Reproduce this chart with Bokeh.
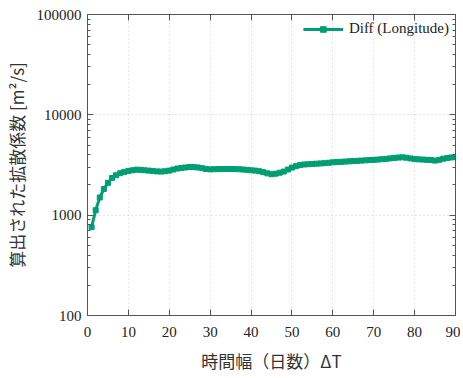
from bokeh.plotting import figure
from bokeh.models import (Range1d, FixedTicker, NumeralTickFormatter, LinearAxis, LogAxis,
                          CustomJSTickFormatter, Legend, LegendItem, ColumnDataSource)
from bokeh.embed import file_html
from bokeh.resources import INLINE

days = list(range(1, 91))
diff_lon = [760, 1120, 1500, 1820, 2100, 2350, 2500, 2620, 2700, 2760,
            2800, 2840, 2830, 2800, 2780, 2750, 2730, 2720, 2740, 2780,
            2850, 2920, 2960, 2990, 3020, 3010, 2990, 2940, 2890, 2860,
            2870, 2880, 2880, 2890, 2890, 2880, 2870, 2850, 2830, 2800,
            2780, 2740, 2680, 2610, 2560, 2590, 2650, 2720, 2850, 2980,
            3080, 3160, 3200, 3220, 3240, 3260, 3280, 3300, 3330, 3360,
            3380, 3400, 3420, 3440, 3460, 3480, 3500, 3520, 3540, 3560,
            3580, 3610, 3640, 3680, 3720, 3750, 3770, 3740, 3680, 3620,
            3600, 3580, 3560, 3540, 3500, 3560, 3650, 3720, 3760, 3800]

x_ticks = [0, 10, 20, 30, 40, 50, 60, 70, 80, 90]
y_ticks = [100, 1000, 10000, 100000]
y_minor = [m * d for d in [100, 1000, 10000] for m in range(2, 10)]

SERIF = "Liberation Serif"
CJK = "Noto Sans CJK JP"
COLOR = "#009E73"
AXC = "#555555"

p = figure(output_backend="svg", toolbar_location=None,
           y_axis_type="log", x_range=Range1d(0, 90), y_range=Range1d(100, 100000),
           frame_width=368, frame_height=301,
           min_border_left=79, min_border_top=14, min_border_right=5, min_border_bottom=46)
p.outline_line_color = AXC
p.background_fill_color = "white"
p.border_fill_color = "white"

src = ColumnDataSource(dict(x=days, y=diff_lon))
r_line = p.line("x", "y", source=src, line_color=COLOR, line_width=3)
r_mark = p.scatter("x", "y", source=src, marker="square", size=5,
                   fill_color=COLOR, line_color=COLOR)

def style_axis(ax, ticker):
    ax.ticker = ticker
    ax.axis_line_color = AXC
    ax.major_tick_line_color = AXC
    ax.minor_tick_line_color = AXC
    ax.major_tick_in = 6
    ax.major_tick_out = 0
    ax.minor_tick_in = 3
    ax.minor_tick_out = 0
    ax.major_label_text_font = SERIF
    ax.major_label_text_font_size = "15px"
    ax.major_label_text_color = "#222222"

xt = FixedTicker(ticks=x_ticks)
yt = FixedTicker(ticks=y_ticks, minor_ticks=y_minor)

xa = p.xaxis[0]
style_axis(xa, xt)
xa.major_label_standoff = 11
xa.axis_label = "時間幅（日数）ΔT"
xa.axis_label_text_font = CJK
xa.axis_label_text_font_size = "17px"
xa.axis_label_text_font_style = "normal"
xa.axis_label_text_color = "#333333"
xa.axis_label_standoff = 8

ya = p.yaxis[0]
style_axis(ya, yt)
ya.formatter = NumeralTickFormatter(format="0")
ya.major_label_standoff = 6
ya.axis_label = "算出された拡散係数 [m²/s]"
ya.axis_label_text_font = CJK
ya.axis_label_text_font_size = "17px"
ya.axis_label_text_font_style = "normal"
ya.axis_label_text_color = "#333333"
ya.axis_label_standoff = 5

blank = CustomJSTickFormatter(code="return ''")
top = LinearAxis(formatter=blank)
style_axis(top, FixedTicker(ticks=x_ticks))
top.major_label_text_font_size = "0px"
top.major_label_standoff = 0
p.add_layout(top, "above")
right = LogAxis(formatter=blank)
style_axis(right, FixedTicker(ticks=y_ticks, minor_ticks=y_minor))
right.major_label_text_font_size = "0px"
right.major_label_standoff = 5
p.add_layout(right, "right")

p.xgrid.ticker = xt
p.ygrid.ticker = yt
for g in (p.xgrid[0], p.ygrid[0]):
    g.grid_line_color = "#cccccc"
    g.grid_line_dash = "1 3"
    g.grid_line_width = 1

legend = Legend(items=[LegendItem(label="Diff (Longitude)", renderers=[r_line, r_mark])],
                location="top_right")
legend.border_line_color = None
legend.background_fill_alpha = 0
legend.label_text_font = SERIF
legend.label_text_font_size = "15px"
legend.label_text_color = "#222222"
legend.glyph_width = 40
legend.glyph_height = 14
legend.label_standoff = 6
legend.padding = 4
legend.margin = 6
p.add_layout(legend)

open("out.html", "w").write(file_html(p, INLINE))
